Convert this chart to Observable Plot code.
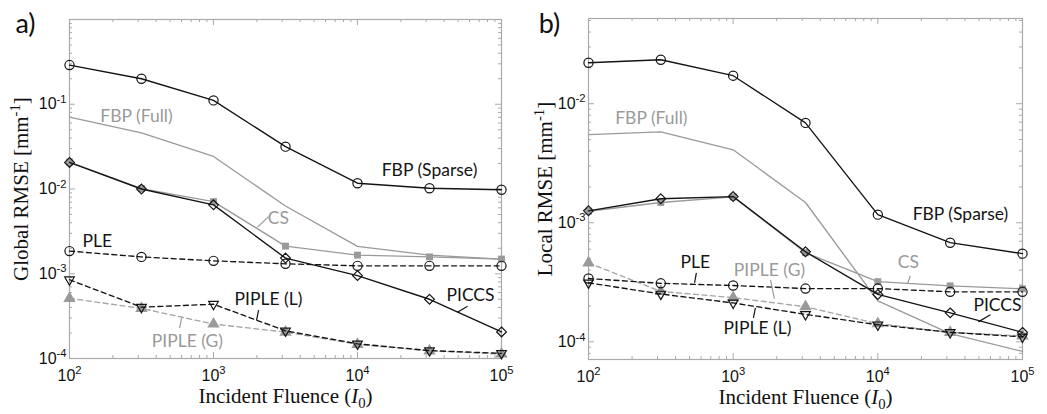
<!DOCTYPE html>
<html><head><meta charset="utf-8">
<script src="https://cdn.jsdelivr.net/npm/d3@7"></script>
<script src="https://cdn.jsdelivr.net/npm/@observablehq/plot@0.6"></script>
<style>
body{margin:0;background:#fff;}
#wrap{display:flex;width:1047px;height:414px;}
#wrap svg{flex:none;}
</style></head><body><div id="wrap"></div>
<script>
// ---- data ----
const fluence = [100, 316, 1000, 3162, 10000, 31623, 100000];

// a) Global RMSE [mm^-1]
const fbpSparseA = [0.29, 0.20, 0.111, 0.0316, 0.0117, 0.0102, 0.0098];
const fbpFullA   = [0.0706, 0.046, 0.0242, 0.0063, 0.0021, 0.00166, 0.00149];
const csA        = [0.0208, 0.0101, 0.0071, 0.00212, 0.00166, 0.00158, 0.00149];
const piccsA     = [0.0206, 0.0100, 0.0065, 0.00153, 0.00095, 0.00050, 0.000206];
const pleA       = [0.00185, 0.00158, 0.00142, 0.00131, 0.00124, 0.00124, 0.00124];
const pipleLA    = [0.00085, 0.000403, 0.000437, 0.000212, 0.000149, 0.000124, 0.000115];
const pipleGA    = [0.000513, 0.00039, 0.000255, 0.000205, 0.000147, 0.000123, 0.000113];

// b) Local RMSE [mm^-1]
const fbpSparseB = [0.0221, 0.0234, 0.0172, 0.0069, 0.00117, 0.00068, 0.00055];
const fbpFullB   = [0.0055, 0.0058, 0.0041, 0.00148, 0.000221, 0.000117, 0.000083];
const csB        = [0.00125, 0.00148, 0.00165, 0.00056, 0.00032, 0.000295, 0.000279];
const piccsB     = [0.00126, 0.00159, 0.00166, 0.00057, 0.00025, 0.000175, 0.00012];
const pleB       = [0.00034, 0.00031, 0.000297, 0.00028, 0.00028, 0.000263, 0.000263];
const pipleLB    = [0.000313, 0.000252, 0.000212, 0.00017, 0.000139, 0.00012, 0.00011];
const pipleGB    = [0.00046, 0.000265, 0.000235, 0.000197, 0.000142, 0.00012, 0.000112];

const seriesNames = ["FBP (Full)", "CS", "PIPLE (G)", "FBP (Sparse)", "PICCS", "PLE", "PIPLE (L)"];
const xTickLabels = [100, 1000, 10000, 100000];
const yTickLabelsA = [1e-4, 1e-3, 1e-2, 1e-1];
const yTickLabelsB = [1e-4, 1e-3, 1e-2];

// in-plot labels (data coordinates)
const labelsA = [
  {series: "FBP (Full)", x: 292, y: 0.0725},
  {series: "FBP (Sparse)", x: 31623, y: 0.0166},
  {series: "CS", x: 2825, y: 0.00448},
  {series: "PLE", x: 156, y: 0.00242},
  {series: "PIPLE (L)", x: 2410, y: 0.000499},
  {series: "PIPLE (G)", x: 659, y: 0.000158},
  {series: "PICCS", x: 60950, y: 0.000555}
];
const leadersA = [
  {series: "CS", x1: 2023, y1: 0.00355, x2: 2410, y2: 0.00472},
  {series: "PIPLE (L)", x1: 1991, y1: 0.000284, x2: 2056, y2: 0.000372},
  {series: "PIPLE (G)", x1: 600, y1: 0.0003, x2: 581, y2: 0.000229},
  {series: "PICCS", x1: 49430, y1: 0.000352, x2: 58080, y2: 0.000413}
];
const labelsB = [
  {series: "FBP (Full)", x: 272, y: 0.00748},
  {series: "FBP (Sparse)", x: 37240, y: 0.00117},
  {series: "CS", x: 16260, y: 0.000461},
  {series: "PLE", x: 548, y: 0.000461},
  {series: "PIPLE (G)", x: 1782, y: 0.000395},
  {series: "PIPLE (L)", x: 1472, y: 0.000129},
  {series: "PICCS", x: 67140, y: 0.000201}
];
const leadersB = [
  {series: "CS", x1: 16030, y1: 0.000307, x2: 16790, y2: 0.000359},
  {series: "PLE", x1: 557, y1: 0.00038, x2: 541, y2: 0.000313},
  {series: "PIPLE (G)", x1: 1811, y1: 0.000332, x2: 1928, y2: 0.00023},
  {series: "PIPLE (L)", x1: 1380, y1: 0.000159, x2: 1425, y2: 0.000193},
  {series: "PICCS", x1: 49550, y1: 0.000147, x2: 59980, y2: 0.000169}
];

// ---- styles ----
const GREY = "#9a9a9a", BLACK = "#141414", FRAME = "#aaaaaa";
const greySeries = new Set(["FBP (Full)", "CS", "PIPLE (G)"]);
const triDown = {
  draw(ctx, size) {
    const s = Math.sqrt(size) * 0.6824, t = s / 2, u = s * Math.sqrt(3) / 2;
    ctx.moveTo(0, s); ctx.lineTo(u, -t); ctx.lineTo(-u, -t); ctx.closePath();
  }
};
const styles = {
  "FBP (Full)":   {stroke: GREY, dash: null},
  "CS":           {stroke: GREY, dash: null, symbol: "square", fill: GREY, mstroke: "none", r: 3.9},
  "PIPLE (G)":    {stroke: "#a6a6a6", dash: "5,3.5", symbol: "triangle", fill: GREY, mstroke: "none", r: 4.6},
  "FBP (Sparse)": {stroke: BLACK, dash: null, symbol: "circle", fill: "none", mstroke: BLACK, r: 4.6},
  "PICCS":        {stroke: BLACK, dash: null, symbol: "diamond2", fill: "none", mstroke: BLACK, r: 4.4},
  "PLE":          {stroke: BLACK, dash: "5,3.5", symbol: "circle", fill: "none", mstroke: BLACK, r: 4.6},
  "PIPLE (L)":    {stroke: BLACK, dash: "5,3.5", symbol: triDown, fill: "none", mstroke: BLACK, r: 4.6}
};

function logTicks(domain) {
  const lo = Math.floor(Math.log10(domain[0]) + 1e-9), hi = Math.ceil(Math.log10(domain[1]) - 1e-9);
  const major = [], minor = [];
  for (let e = lo; e <= hi; e++) for (let k = 1; k <= 9; k++) {
    const v = k * Math.pow(10, e);
    if (v < domain[0] * 0.999 || v > domain[1] * 1.001) continue;
    (k === 1 ? major : minor).push(v);
  }
  return {major, minor};
}
const powFmt = d => `10^{${Math.round(Math.log10(d))}}`;

function panel(o) {
  const W = o.width, H = 414;
  const pw = W - o.ml - o.mr, ph = H - o.mt - o.mb;
  const xt = logTicks(o.xDomain), yt = logTicks(o.yDomain);
  const marks = [];
  // tick marks (inward, all four sides)
  for (const [vals, len] of [[xt.major, 6], [xt.minor, 3]]) {
    marks.push(Plot.tickX(vals, {x: d => d, stroke: FRAME, insetTop: ph - len}));
    marks.push(Plot.tickX(vals, {x: d => d, stroke: FRAME, insetBottom: ph - len}));
  }
  for (const [vals, len] of [[yt.major, 6], [yt.minor, 3]]) {
    marks.push(Plot.tickY(vals, {y: d => d, stroke: FRAME, insetRight: pw - len}));
    marks.push(Plot.tickY(vals, {y: d => d, stroke: FRAME, insetLeft: pw - len}));
  }
  marks.push(Plot.frame({stroke: FRAME, strokeWidth: 1.2}));
  // series
  for (const name of seriesNames) {
    const vals = o.series[name];
    const rows = vals.map((v, i) => ({x: fluence[i], y: v}));
    const st = styles[name];
    marks.push(Plot.line(rows, {x: "x", y: "y", stroke: st.stroke, strokeWidth: 1.35, strokeDasharray: st.dash || undefined}));
    if (st.symbol) marks.push(Plot.dot(rows, {x: "x", y: "y", symbol: st.symbol, r: st.r, fill: st.fill, stroke: st.mstroke, strokeWidth: 1.2}));
  }
  // leaders + labels
  for (const grey of [true, false]) {
    const col = grey ? GREY : BLACK;
    marks.push(Plot.link(o.leaders.filter(d => greySeries.has(d.series) === grey), {x1: "x1", y1: "y1", x2: "x2", y2: "y2", stroke: col, strokeWidth: 1.2}));
    marks.push(Plot.text(o.labels.filter(d => greySeries.has(d.series) === grey), {x: "x", y: "y", text: "series", fill: col, fontFamily: "Lato", fontSize: 17.5, textAnchor: "middle", lineAnchor: "middle"}));
  }
  // axes (labels only)
  marks.push(Plot.axisX({ticks: xTickLabels, tickSize: 0, tickPadding: 11, tickFormat: powFmt, label: null, fontSize: 16}));
  marks.push(Plot.axisY({ticks: o.yTickLabels, tickSize: 0, tickPadding: 3, tickFormat: powFmt, label: null, fontSize: 16}));
  // axis titles and panel letter
  marks.push(Plot.text([o.ylabel], {text: d => d, frameAnchor: "left", dx: o.ylabelDx, rotate: -90, textAnchor: "middle", lineAnchor: "middle", fontFamily: "Liberation Serif", fontSize: 21, fill: "#111"}));
  marks.push(Plot.text(["Incident Fluence (*I*_{0})"], {text: d => d, frameAnchor: "bottom", dy: 38, textAnchor: "middle", lineAnchor: "middle", fontFamily: "Liberation Serif", fontSize: 21, fill: "#111"}));
  marks.push(Plot.text([o.letter], {text: d => d, frameAnchor: "top-left", dx: o.letterDx, dy: o.letterDy, textAnchor: "middle", lineAnchor: "middle", fontFamily: "Lato", fontSize: 27, fill: "#111"}));

  return Plot.plot({
    width: W, height: H,
    marginLeft: o.ml, marginRight: o.mr, marginTop: o.mt, marginBottom: o.mb,
    x: {type: "log", domain: o.xDomain},
    y: {type: "log", domain: o.yDomain},
    style: {fontFamily: "Liberation Sans", fontSize: "16px", color: "#111", background: "white", overflow: "visible"},
    marks
  });
}

function rich(svg) {
  const NS = "http://www.w3.org/2000/svg";
  svg.querySelectorAll("text").forEach(t => {
    const s = t.textContent;
    if (!/\^\{|_\{|\*/.test(s)) return;
    const F = parseFloat(getComputedStyle(t).fontSize) || 16;
    const parts = s.split(/(\^\{[^}]*\}|_\{[^}]*\}|\*[^*]*\*)/).filter(p => p);
    while (t.firstChild) t.removeChild(t.firstChild);
    let shift = 0;
    for (const p of parts) {
      const ts = document.createElementNS(NS, "tspan");
      let target = 0, txt = p;
      if (p.startsWith("^{")) { target = -0.4 * F; txt = p.slice(2, -1); ts.setAttribute("font-size", (0.7 * F) + "px"); }
      else if (p.startsWith("_{")) { target = 0.22 * F; txt = p.slice(2, -1); ts.setAttribute("font-size", (0.7 * F) + "px"); }
      else if (p.startsWith("*")) { txt = p.slice(1, -1); ts.setAttribute("font-style", "italic"); }
      if (target - shift !== 0) ts.setAttribute("dy", (target - shift) + "px");
      shift = target;
      ts.textContent = txt;
      t.appendChild(ts);
    }
  });
}

const wrap = document.getElementById("wrap");
const a = panel({
  width: 523, ml: 69, mr: 22, mt: 19, mb: 56,
  xDomain: [100, 1e5], yDomain: [1e-4, 1],
  yTickLabels: yTickLabelsA,
  series: {"FBP (Sparse)": fbpSparseA, "FBP (Full)": fbpFullA, "CS": csA, "PICCS": piccsA, "PLE": pleA, "PIPLE (L)": pipleLA, "PIPLE (G)": pipleGA},
  labels: labelsA, leaders: leadersA,
  ylabel: "Global RMSE [mm^{-1}]", ylabelDx: -48,
  letter: "a)", letterDx: -44, letterDy: 5
});
const b = panel({
  width: 524, ml: 65, mr: 25, mt: 18, mb: 55,
  xDomain: [100, 1e5], yDomain: [7.1e-5, 0.052],
  yTickLabels: yTickLabelsB,
  series: {"FBP (Sparse)": fbpSparseB, "FBP (Full)": fbpFullB, "CS": csB, "PICCS": piccsB, "PLE": pleB, "PIPLE (L)": pipleLB, "PIPLE (G)": pipleGB},
  labels: labelsB, leaders: leadersB,
  ylabel: "Local RMSE [mm^{-1}]", ylabelDx: -43,
  letter: "b)", letterDx: -39, letterDy: 6
});
wrap.appendChild(a); wrap.appendChild(b);
rich(a); rich(b);
</script></body></html>
